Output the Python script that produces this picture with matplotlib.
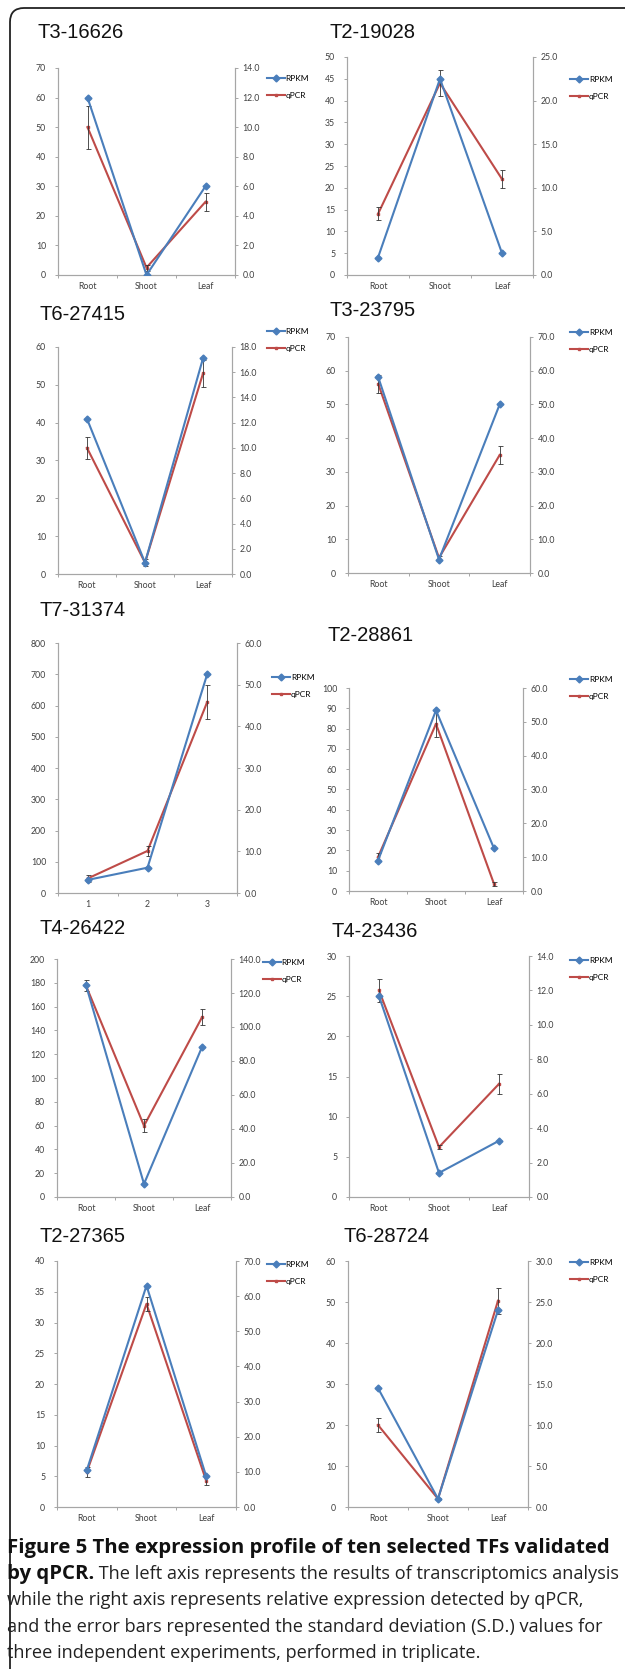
import matplotlib
matplotlib.use("Agg")
import matplotlib.pyplot as plt
from matplotlib.patches import FancyBboxPatch
from matplotlib.transforms import IdentityTransform
from matplotlib.ticker import MultipleLocator, FormatStrFormatter

W, H = 625, 1669

# ---- data ----
titles = ["T3-16626", "T2-19028", "T6-27415", "T3-23795", "T7-31374",
          "T2-28861", "T4-26422", "T4-23436", "T2-27365", "T6-28724"]
tissues = ["Root", "Shoot", "Leaf"]
tissues_num = ["1", "2", "3"]

rpkm = [[60, 0, 30], [4, 45, 5], [41, 3, 57], [58, 4, 50], [42, 81, 700],
        [15, 89, 21], [178, 11, 126], [25, 3, 7], [6, 36, 5], [29, 2, 48]]
qpcr = [[10.0, 0.5, 4.95], [7.0, 22.0, 11.0], [10.0, 0.9, 15.9], [56.0, 4.5, 35.0],
        [3.5, 10.1, 45.8], [10.0, 49.4, 2.1], [124.3, 41.9, 105.7], [12.0, 2.9, 6.57],
        [10.0, 57.8, 7.5], [10.0, 1.0, 25.15]]
qpcr_sd = [[1.45, 0.2, 0.6], [0.75, 1.5, 1.05], [0.9, 0.3, 1.1], [2.7, 0.5, 2.6],
           [0.8, 1.1, 4.1], [1.2, 4.0, 0.7], [3.2, 3.8, 4.7], [0.65, 0.1, 0.57],
           [1.4, 2.0, 1.3], [0.9, 0.1, 1.6]]
left_max = [70, 50, 60, 70, 800, 100, 200, 30, 40, 60]
left_step = [10, 5, 10, 10, 100, 10, 20, 5, 5, 10]
right_max = [14, 25, 18, 70, 60, 60, 140, 14, 70, 30]
right_step = [2, 5, 2, 10, 10, 10, 20, 2, 10, 5]

caption_bold = "Figure 5 The expression profile of ten selected TFs validated"
caption_bold2 = "by qPCR."
caption_lines = [" The left axis represents the results of transcriptomics analysis",
                 "while the right axis represents relative expression detected by qPCR,",
                 "and the error bars represented the standard deviation (S.D.) values for",
                 "three independent experiments, performed in triplicate."]

# ---- layout in pixels: (left, right, top, bottom) of each plot area ----
boxes = [(58, 235, 68, 275), (347, 533, 57, 275), (58, 232, 347, 574), (348, 530, 337, 573),
         (58, 237, 643, 893), (349, 523, 688, 891), (57, 231, 959, 1197), (349, 529, 956, 1197),
         (57, 236, 1261, 1507), (348, 528, 1261, 1507)]
title_pos = [(37, 33), (330, 33), (40, 315), (330, 310), (40, 610), (328, 635),
             (40, 928), (332, 931), (40, 1236), (344, 1236)]
legend_pos = [(267, 87), (570, 88), (267, 340), (570, 341), (272, 686), (570, 688),
              (263, 971), (570, 969), (267, 1273), (570, 1271)]

BLUE = "#4A7EBB"
RED = "#BE4B48"
AXC = "#A6A6A6"
TXT = "#404040"
CAP_FONT = "Open Sans"

fig = plt.figure(figsize=(W / 100, H / 100), dpi=100)

bg = fig.add_axes([0, 0, 1, 1])
bg.axis("off")
bg.set_xlim(0, W)
bg.set_ylim(H, 0)

frame = FancyBboxPatch((10, -30), 660, H - 8 + 30, boxstyle="round,pad=0,rounding_size=14",
                       transform=IdentityTransform(), fill=False, ec="#222222", lw=1.3)
bg.add_patch(frame)

for i in range(len(titles)):
    x0, x1, yt, yb = boxes[i]
    ax = fig.add_axes([x0 / W, 1 - yb / H, (x1 - x0) / W, (yb - yt) / H])
    ax2 = ax.twinx()
    ax.set_zorder(ax2.get_zorder() + 1)
    ax.patch.set_visible(False)

    xs = list(range(3))
    l1, = ax.plot(xs, rpkm[i], color=BLUE, lw=1.5, marker="D", ms=3.5, label="RPKM", zorder=5)
    l2, = ax2.plot(xs, qpcr[i], color=RED, lw=1.5, marker="s", ms=1.8, label="qPCR", zorder=4)
    ax2.errorbar(xs, qpcr[i], yerr=qpcr_sd[i], fmt="none", ecolor="#333333",
                 elinewidth=0.6, capsize=1.8, capthick=0.6, zorder=6)

    ax.set_xlim(-0.5, 2.5)
    ax.set_ylim(0, left_max[i])
    ax2.set_ylim(0, right_max[i])
    ax.yaxis.set_major_locator(MultipleLocator(left_step[i]))
    ax2.yaxis.set_major_locator(MultipleLocator(right_step[i]))
    ax2.yaxis.set_major_formatter(FormatStrFormatter("%.1f"))

    ax.set_xticks(xs)
    ax.set_xticklabels(tissues_num if i == 4 else tissues)
    ax.set_xticks([-0.5, 0.5, 1.5, 2.5], minor=True)
    ax.tick_params(axis="x", which="major", length=0, pad=5, labelsize=6.3, labelcolor=TXT)
    ax.tick_params(axis="x", which="minor", length=2.5, width=0.7, color=AXC, direction="out")
    ax.tick_params(axis="y", length=2.5, width=0.7, color=AXC, labelsize=6.3, labelcolor=TXT, pad=6)
    ax2.tick_params(axis="y", length=2.5, width=0.7, color=AXC, labelsize=6.3, labelcolor=TXT, pad=3)
    for t in ax.get_xticklabels() + ax.get_yticklabels() + ax2.get_yticklabels():
        t.set_fontfamily("Lato")

    for a in (ax, ax2):
        a.spines["top"].set_visible(False)
        for s in ("left", "right", "bottom"):
            a.spines[s].set_color(AXC)
            a.spines[s].set_linewidth(0.8)

    lx, ly = legend_pos[i]
    ax2.legend([l1, l2], ["RPKM", "qPCR"], loc="center left",
               bbox_to_anchor=(lx / W, 1 - ly / H), bbox_transform=fig.transFigure,
               frameon=False, prop={"family": "Lato", "size": 6},
               handlelength=2.1, handletextpad=0.15, labelspacing=1.25,
               borderpad=0, borderaxespad=0)

    tx, ty = title_pos[i]
    bg.text(tx, ty, titles[i], fontsize=14.5, family="Liberation Sans", color="#111111",
            ha="left", va="center")

# caption, sized so the long lines fill the panel width like the original
cap_x, cap_y0, cap_dy = 7, 1548, 26.2
t_head = bg.text(cap_x, cap_y0, caption_bold, fontsize=13, family=CAP_FONT,
                 fontweight="bold", color="#111111", ha="left", va="center")
t_by = bg.text(cap_x, cap_y0 + cap_dy, caption_bold2, fontsize=13, family=CAP_FONT,
               fontweight="bold", color="#111111", ha="left", va="center")
t_rest = bg.annotate(caption_lines[0], xy=(1, 0.5), xycoords=t_by, fontsize=13,
                     family=CAP_FONT, color="#222222", ha="left", va="center")
body = []
for k, line in enumerate(caption_lines[1:]):
    body.append(bg.text(cap_x, cap_y0 + cap_dy * (k + 2), line, fontsize=13, family=CAP_FONT,
                        color="#222222", ha="left", va="center"))

fig.canvas.draw()
r = fig.canvas.get_renderer()
bold_size = 13 * (605 - cap_x) / t_head.get_window_extent(renderer=r).width
body_size = 13 * (600 - cap_x) / body[0].get_window_extent(renderer=r).width
t_head.set_fontsize(bold_size)
t_by.set_fontsize(bold_size)
t_rest.set_fontsize(body_size)
for t in body:
    t.set_fontsize(body_size)

# second line must still end inside the frame
fig.canvas.draw()
bb = t_rest.get_window_extent(renderer=r)
if bb.x1 > 621:
    body_size *= (621 - bb.x0) / bb.width
    t_rest.set_fontsize(body_size)
    for t in body:
        t.set_fontsize(body_size)

fig.savefig("out.png", dpi=100)
